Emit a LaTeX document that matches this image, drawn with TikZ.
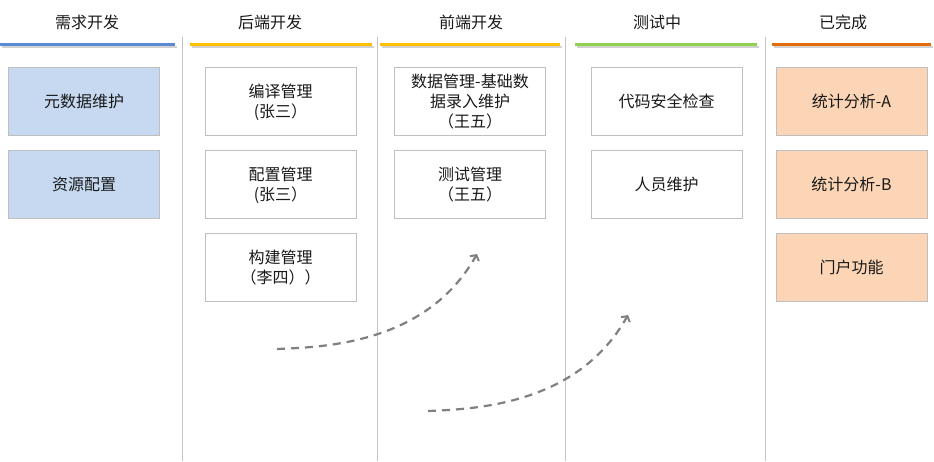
\documentclass[tikz,border=0pt]{standalone}
\usepackage{fontspec}
\setmainfont{Noto Sans CJK SC}
\usetikzlibrary{arrows.meta,calc}
\definecolor{cardline}{HTML}{BFBFBF}
\definecolor{sepline}{HTML}{C4C4C4}
\definecolor{reqfill}{HTML}{C6D9F1}
\definecolor{donefill}{HTML}{FBD5B5}
\definecolor{reqbar}{HTML}{5B8BD5}
\definecolor{devbar}{HTML}{FFC000}
\definecolor{testbar}{HTML}{92D050}
\definecolor{donebar}{HTML}{E46C0A}
\definecolor{flowgray}{HTML}{808080}
\tikzset{
  card/.style={draw=cardline, line width=1pt, minimum width=151pt, minimum height=68pt,
    inner sep=0pt, align=center, font=\fontsize{16}{20}\selectfont, text=black!90,
    text height=14pt, text depth=2pt},
  twoline/.style={text height=34pt},
  threeline/.style={text height=54pt},
  reqcard/.style={card, fill=reqfill},
  donecard/.style={card, fill=donefill},
  colhead/.style={font=\fontsize{16}{20}\selectfont, text=black!90, inner sep=0pt},
  colbar/.style={line width=3pt},
  barshade/.style={line width=2pt, black!18},
  colsep/.style={draw=sepline, line width=1pt},
  flow/.style={dashed, dash pattern=on 8pt off 6pt, line width=2.2pt, flowgray,
    -{Straight Barb[length=4pt,width=10pt,line width=2pt]}}
}
\def\headbar[#1](#2:#3){\draw[barshade] (#2+1.5,46.5) -- (#3+1.5,46.5);
  \draw[colbar,#1] (#2,44) -- (#3,44);}

\begin{document}
\begin{tikzpicture}[x=1pt, y=-1pt]
		%%%%% START %%%%%
		\useasboundingbox (0,0) rectangle (934,461);
		
		% column heads
		\node[colhead] (hreq)  at (87,22)    {需求开发};
		\node[colhead] (hback) at (270,22)   {后端开发};
		\node[colhead] (hfront) at (471,22)  {前端开发};
		\node[colhead] (htest) at (657,22)   {测试中};
		\node[colhead] (hdone) at (843,22)   {已完成};
		
		\headbar[reqbar](0:175)
		\headbar[devbar](190:372)
		\headbar[devbar](380:560)
		\headbar[testbar](575:757)
		\headbar[donebar](772:931)
		
		% separators
		\foreach \sx in {182.5, 377.5, 565, 765}
			\draw[colsep] (\sx,37) -- (\sx,461);
		
		% cards
		\node[reqcard] (meta)  at (84,101)  {元数据维护};
		\node[reqcard] (res)   at (84,184)  {资源配置};
		
		\node[card,twoline] (compile)  at (280.5,101) {编译管理\\(张三）};
		\node[card,twoline] (config)   at (280.5,184) {配置管理\\(张三）};
		\node[card,twoline] (build)    at (280.5,267) {构建管理\\（李四））};
		
		\node[card,threeline] (datamgr) at (470,101) {数据管理-基础数\\据录入维护\\（王五）};
		\node[card,twoline] (testmgr)   at (470,184) {测试管理\\（王五）};
		
		\node[card] (codecheck) at (666.5,101) {代码安全检查};
		\node[card] (staff)     at (666.5,184) {人员维护};
		
		\node[donecard] (statA)  at (851.5,101) {统计分析-A};
		\node[donecard] (statB)  at (851.5,184) {统计分析-B};
		\node[donecard] (portal) at (851.5,267) {门户功能};
		
		% flow arrows
		\coordinate (fromback)  at (277,349);
		\coordinate (tofront)   at (477,254);
		\coordinate (fromfront) at (428,411);
		\coordinate (totest)    at (628,315);
		\draw[flow] (fromback) .. controls ($(fromback)+(50,-2)$) and ($(tofront)+(-50,89)$) .. (tofront);
		\draw[flow] (fromfront) .. controls ($(fromfront)+(50,-2)$) and ($(totest)+(-50,89)$) .. (totest);
		
		%%%%% END %%%%%
\end{tikzpicture}
\end{document}
